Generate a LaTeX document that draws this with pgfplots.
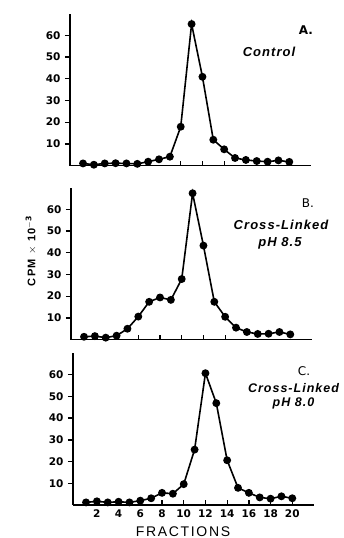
\documentclass[border=0pt]{standalone}
\usepackage{pgfplots}
\pgfplotsset{compat=1.18}
\usepackage{fontspec}
\setmainfont{DejaVu Sans}
\newfontfamily\lblfont[LetterSpace=12]{Liberation Sans}
\newfontfamily\ttlfont[LetterSpace=8]{Liberation Sans}
\pgfplotsset{
  panel/.style={
    scale only axis, width=241pt, height=152pt,
    xmin=-0.2, xmax=22, ymin=0, ymax=70,
    axis x line*=bottom, axis y line*=left,
    axis line style={line width=1.5pt},
    tick align=outside, major tick length=5pt,
    every tick/.style={line width=1.3pt, black},
    xtick style={yshift=5pt},
    ytick={10,20,30,40,50,60},
    /pgf/number format/assume math mode=true,
    tick label style={font=\fontsize{10.5}{10.5}\selectfont\bfseries},
    yticklabel style={xshift=-1pt},
    xticklabel style={yshift=4pt},
    clip=false,
  },
  series/.style={black, line width=1.6pt, mark=*, mark size=3.1pt, mark options={solid, fill=black}},
}
\begin{document}
\begin{tikzpicture}[x=1pt,y=1pt]
\useasboundingbox (0,0) rectangle (344,538);
% Panel A
\begin{axis}[panel, at={(70pt,372.4pt)}, anchor=south west, xtick={10,12,14}, xticklabels={}]
\addplot[series] coordinates {
(1,1.0) (2,0.4) (3,1.0) (4,1.1) (5,1.0) (6,0.8) (7,1.8) (8,2.9) (9,4.1) (10,17.9)
(11,65.2) (12,40.9) (13,11.9) (14,7.5) (15,3.5) (16,2.6) (17,2.1) (18,1.8) (19,2.4) (20,1.7)};
\end{axis}
% Panel B
\begin{axis}[panel, at={(71pt,198.4pt)}, anchor=south west, xtick={6,8,10,12,14}, xticklabels={}]
\addplot[series] coordinates {
(1,1.3) (2,1.6) (3,0.9) (4,1.8) (5,5.0) (6,10.6) (7,17.4) (8,19.4) (9,18.3) (10,27.9)
(11,67.4) (12,43.3) (13,17.4) (14,10.5) (15,5.5) (16,3.5) (17,2.6) (18,2.7) (19,3.5) (20,2.4)};
\end{axis}
% Panel C
\begin{axis}[panel, at={(73pt,33pt)}, anchor=south west, xtick={2,4,6,8,10,12,14,16,18,20}]
\addplot[series] coordinates {
(1,1.2) (2,1.7) (3,1.2) (4,1.5) (5,1.2) (6,2.0) (7,3.1) (8,5.6) (9,5.2) (10,9.6)
(11,25.5) (12,60.7) (13,46.9) (14,20.6) (15,7.9) (16,5.6) (17,3.5) (18,2.9) (19,4.0) (20,3.1)};
\end{axis}
% Annotations
\node[font=\fontsize{12}{12}\selectfont\bfseries] at (306,508) {A.};
\node[font=\fontsize{13}{13}\selectfont\ttlfont\bfseries\itshape] at (269,486) {Control};
\node[font=\fontsize{12}{12}\selectfont] at (308,335) {B.};
\node[font=\fontsize{13}{13}\selectfont\ttlfont\bfseries\itshape] at (281,313) {Cross-Linked};
\node[font=\fontsize{13}{13}\selectfont\ttlfont\bfseries\itshape] at (280,295) {pH 8.5};
\node[font=\fontsize{12}{12}\selectfont] at (304,167) {C.};
\node[inner sep=0pt, font=\fontsize{12.5}{12.5}\selectfont\ttlfont\bfseries\itshape] at (293.5,149.5) {Cross-Linked};
\node[inner sep=0pt, font=\fontsize{12.5}{12.5}\selectfont\ttlfont\bfseries\itshape] at (293.5,134.5) {pH 8.0};
\node[font=\fontsize{14}{14}\selectfont\lblfont, anchor=base] at (183,1.5) {FRACTIONS};
\node[rotate=90, font=\fontsize{11}{11}\selectfont\lblfont\bfseries] at (31,287) {CPM $\times$ 10$^{\mathbf{-3}}$};
\end{tikzpicture}
\end{document}
